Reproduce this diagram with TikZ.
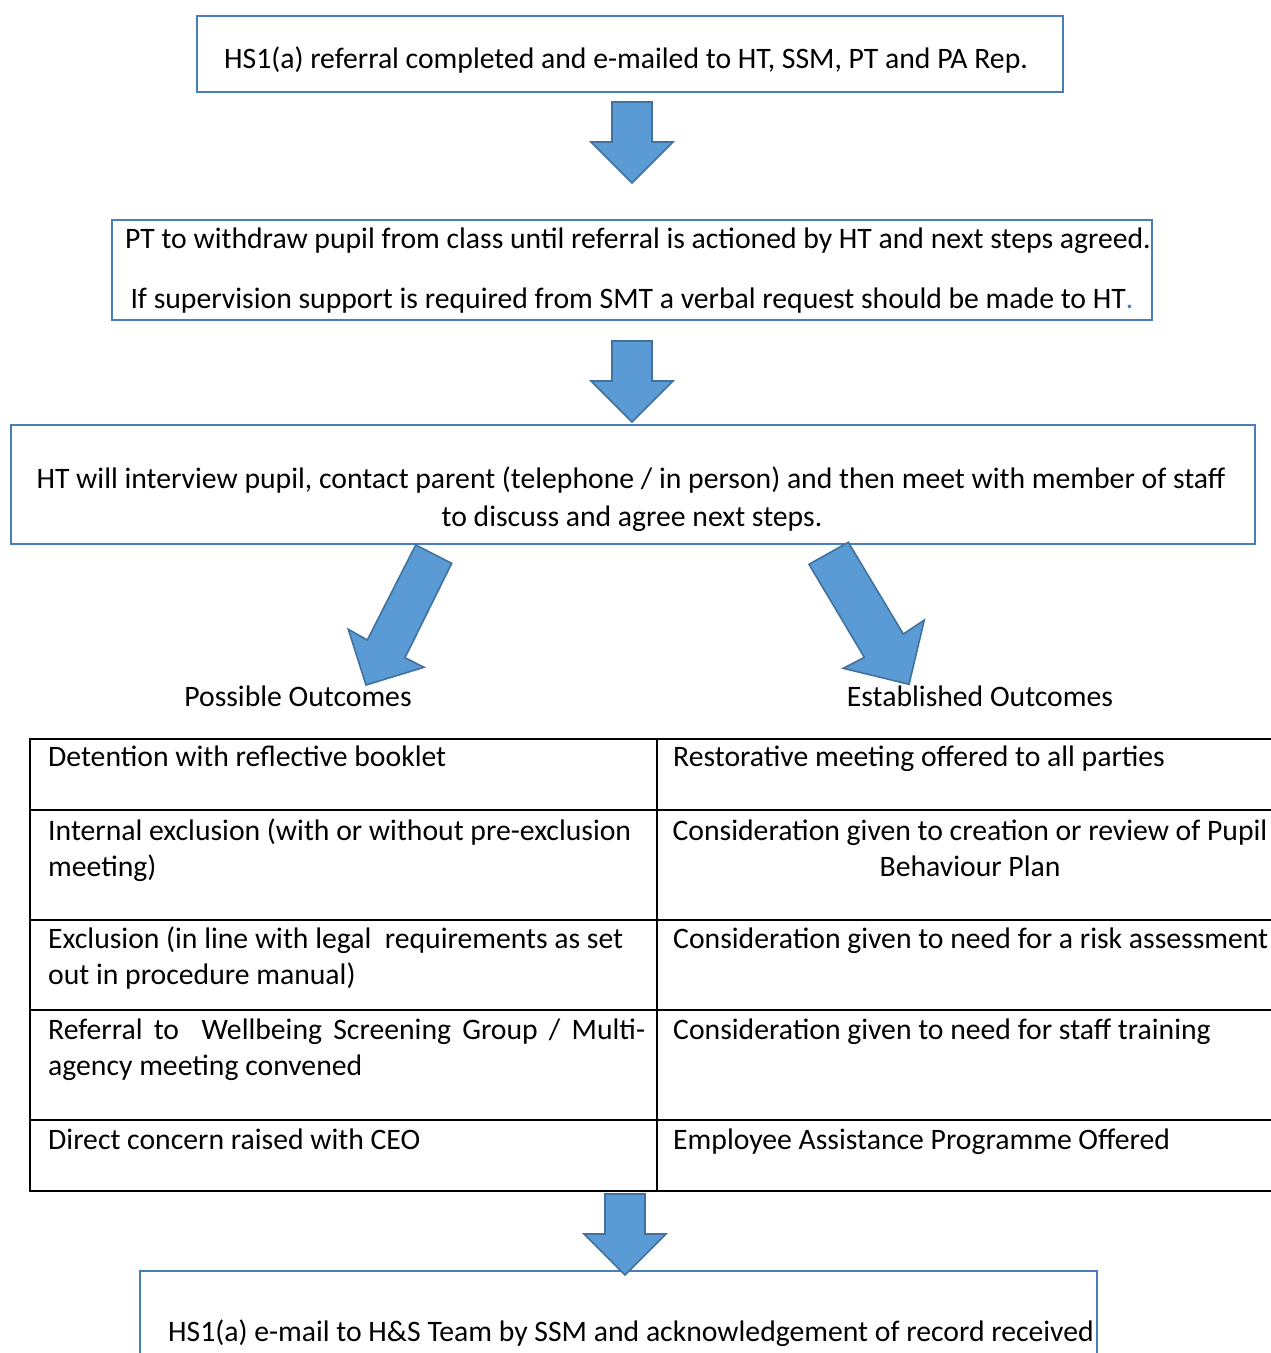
\documentclass[tikz,border=0pt]{standalone}
\usepackage{fontspec}
\setmainfont{Carlito}
\definecolor{boxblue}{HTML}{4A7EBB}
\definecolor{arrline}{HTML}{41719C}
\definecolor{arrfill}{HTML}{5B9BD5}
\newcommand\blockdown[2]{%
  \filldraw[arr] (#1-20,#2) -- (#1+20,#2) -- (#1+20,#2+40) -- (#1+41,#2+40)
    -- (#1,#2+81) -- (#1-41,#2+40) -- (#1-20,#2+40) -- cycle;}
\begin{document}
\begin{tikzpicture}[x=1pt,y=-1pt,
  box/.style={draw=boxblue, line width=2pt, inner sep=0pt, anchor=north west},
  arr/.style={fill=arrfill, draw=arrline, line width=1.6pt, line join=miter},
  txt/.style={font=\fontsize{29.7}{36}\selectfont, inner sep=0pt, anchor=base},
  ltxt/.style={txt, anchor=base west},
  tline/.style={line width=2pt, black}]
\useasboundingbox (0,0) rectangle (1271,1353);
\clip (0,0) rectangle (1271,1353);
\fill[white] (0,0) rectangle (1271,1353);
% boxes
\node[box, minimum width=866pt, minimum height=76pt] (b1) at (196,15) {};
\node[box, minimum width=1040pt, minimum height=100pt] (b2) at (111,219) {};
\node[box, minimum width=1244pt, minimum height=119pt] (b3) at (10,424) {};
\node[box, minimum width=957pt, minimum height=120pt] (b4) at (139,1270) {};
% box texts
\node[txt] (t1) at (626,68) {HS1(a) referral completed and e-mailed to HT, SSM, PT and PA Rep.};
\node[txt] (t2a) at (638,248) {PT to withdraw pupil from class until referral is actioned by HT and next steps agreed.};
\node[txt] (t2b) at (632,308) {If supervision support is required from SMT a verbal request should be made to HT{\color{boxblue}.}};
\node[txt] (t3a) at (631,488) {HT will interview pupil, contact parent (telephone / in person) and then meet with member of staff};
\node[txt] (t3b) at (632,526) {to discuss and agree next steps.};
\node[txt] (t4) at (631,1341) {HS1(a) e-mail to H\&S Team by SSM and acknowledgement of record received};
% arrows
\blockdown{632}{102}
\blockdown{632}{341}
\blockdown{625}{1194}
\filldraw[arr] (415.7,545) -- (451.7,563.3) -- (405,657.7) -- (424,667.3) -- (366,685)
  -- (348.3,629.3) -- (367.3,640) -- cycle;
\filldraw[arr] (848.3,542.3) -- (809,564.3) -- (864.3,657.3) -- (843.3,668.3) -- (909,684.3)
  -- (924.3,620) -- (903.3,634) -- cycle;
% labels
\node[txt] (lp) at (298,706) {Possible Outcomes};
\node[txt] (le) at (980,706) {Established Outcomes};
% table
\foreach \yy in {739,810,920,1010,1120,1191}
  \draw[tline] (29,\yy) -- (1280,\yy);
\draw[tline] (30,739) -- (30,1191);
\draw[tline] (657,739) -- (657,1191);
\node[ltxt] (c11) at (48,766) {Detention with reflective booklet};
\node[ltxt] (c21) at (48,840) {Internal exclusion (with or without pre-exclusion};
\node[ltxt] (c21b) at (48,876) {meeting)};
\node[ltxt] (c31) at (48,948) {Exclusion (in line with legal\ \ requirements as set};
\node[ltxt] (c31b) at (48,984) {out in procedure manual)};
\node[ltxt] (c41) at (48,1039) {\makebox[597pt][s]{Referral to\ \ Wellbeing Screening Group / Multi-}};
\node[ltxt] (c41b) at (48,1075) {agency meeting convened};
\node[ltxt] (c51) at (48,1149) {Direct concern raised with CEO};
\node[ltxt] (c12) at (673,766) {Restorative meeting offered to all parties};
\node[txt] (c22) at (970,840) {Consideration given to creation or review of Pupil};
\node[txt] (c22b) at (970,876) {Behaviour Plan};
\node[ltxt] (c32) at (673,948) {Consideration given to need for a risk assessment};
\node[ltxt] (c42) at (673,1039) {Consideration given to need for staff training};
\node[ltxt] (c52) at (673,1149) {Employee Assistance Programme Offered};
\end{tikzpicture}
\end{document}
